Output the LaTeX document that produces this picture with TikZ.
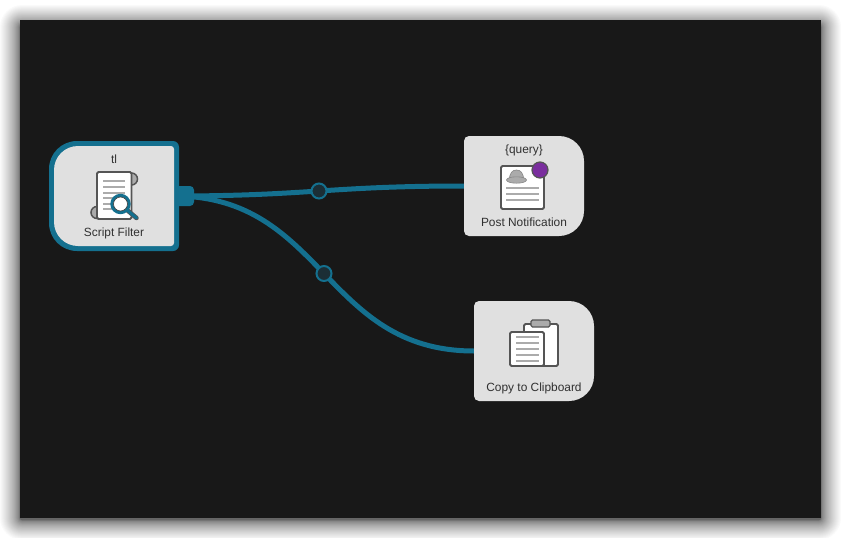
\documentclass[tikz,border=0pt]{standalone}
\usepackage{fontspec}
\setmainfont{Liberation Sans}
\usetikzlibrary{calc}
\definecolor{bgdark}{HTML}{181818}
\definecolor{wire}{HTML}{14708F}
\definecolor{card}{HTML}{E0E0E0}
\definecolor{ink}{HTML}{555555}
\definecolor{lbl}{HTML}{303030}
\definecolor{dotfill}{HTML}{1B2E36}
\definecolor{grayfill}{HTML}{ABABAB}
\definecolor{purp}{HTML}{7A2E9E}
\tikzset{
  anchorbox/.style={minimum width=120pt,minimum height=100pt,inner sep=0pt,outer sep=0pt},
  cardlabel/.style={text=lbl,font=\fontsize{11.9}{13}\selectfont,inner sep=0pt,anchor=base},
  conn/.style={draw=wire,line width=5pt},
  junction/.style={circle,draw=wire,line width=2pt,fill=dotfill,minimum size=15pt,inner sep=0pt},
  paper/.style={draw=ink,line width=1.8pt,fill=white,rounded corners=1.5pt},
  rule/.style={draw=grayfill,line width=1.5pt},
}
\begin{document}
\begin{tikzpicture}[x=1pt,y=-1pt]
\useasboundingbox (0,0) rectangle (841,538);
\fill[white] (0,0) rectangle (841,538);
% window shadow
\foreach \k in {40,39,...,1}{
  \pgfmathsetmacro{\d}{20*(\k/40)^2.2}
  \pgfmathsetmacro{\rr}{2+\d}
  \fill[black,opacity=0.02,rounded corners=\rr pt] (20-\d,25-\d) rectangle (821+\d,520+\d);
}
\fill[bgdark] (20,20) rectangle (821,518);
% named anchors
\node[anchorbox] (sf) at (114,196) {};
\node[anchorbox] (pn) at (524,186) {};
\node[anchorbox] (cc) at (534,351) {};
% connectors
\path[conn] (sf.east) .. controls +(135,0) and +(-135,0) .. (pn.west) node[pos=.5,junction] (j1) {};
\path[conn] (sf.east) .. controls +(150,0) and +(-150,0) .. (cc.west) node[pos=.5,junction] (j2) {};
% script filter card
\fill[wire,rounded corners=4pt] (170,186) rectangle (194,206);
\fill[wire,rounded corners=6pt] (179,141) -- (179,251) [rounded corners=28pt] -- (49,251) -- (49,141) [rounded corners=6pt] -- cycle;
\fill[card,rounded corners=3pt] (174,146) -- (174,246) [rounded corners=24pt] -- (54,246) -- (54,146) [rounded corners=3pt] -- cycle;
% post notification card
\fill[card,rounded corners=5pt] (464,136) [rounded corners=25pt] -- (584,136) -- (584,236) [rounded corners=5pt] -- (464,236) -- cycle;
% copy to clipboard card
\fill[card,rounded corners=5pt] (474,301) [rounded corners=25pt] -- (594,301) -- (594,401) [rounded corners=5pt] -- (474,401) -- cycle;
% labels
\node[cardlabel] (t1) at (114,163) {tl};
\node[cardlabel] (t2) at (114,236) {Script Filter};
\node[cardlabel] (t3) at (524,153) {\{query\}};
\node[cardlabel] (t4) at (524,226) {Post Notification};
\node[cardlabel] (t5) at (534,391) {Copy to Clipboard};
% script filter icon
\filldraw[fill=grayfill,draw=ink,line width=1.5pt] (131.5,179) circle (6);
\filldraw[fill=grayfill,draw=ink,line width=1.5pt] (97,212.5) circle (6);
\path[paper] (97,172) rectangle (131.5,219);
\foreach \y in {181,187,193,198,204,209}{\path[rule] (103,\y) -- (125,\y);}
\draw[ink,line width=4.5pt,line cap=round] (127,210) -- (136.5,218);
\draw[wire,line width=3pt,line cap=round] (127,210) -- (136.5,218);
\filldraw[fill=white,draw=wire,line width=3pt] (120.5,204) circle (8.7);
\draw[ink!70!black,line width=.6pt] (120.5,204) circle (7);
% post notification icon
\path[paper] (501,166) rectangle (544,209);
\filldraw[fill=grayfill,draw=ink!70,line width=.6pt] (509,180) .. controls (510,173) and (512,170) .. (516.5,170) .. controls (521,170) and (523,173) .. (524,180) -- cycle;
\filldraw[fill=grayfill,draw=ink!70,line width=.6pt] (516.5,180) ellipse (10 and 3.2);
\fill[grayfill] (510,178) rectangle (523,180.5);
\foreach \y in {188,194,200}{\path[rule] (506,\y) -- (539,\y);}
\filldraw[fill=purp,draw=ink,line width=1.2pt] (540,170) circle (8);
% clipboard icon
\path[paper] (524,324) rectangle (558,366);
\filldraw[fill=grayfill,draw=ink,line width=1.2pt,rounded corners=1.5pt] (531,320) rectangle (550,327);
\path[paper] (510,332) rectangle (544,366);
\foreach \y in {337,343,349,355,361}{\path[rule] (516,\y) -- (539,\y);}
\end{tikzpicture}
\end{document}
